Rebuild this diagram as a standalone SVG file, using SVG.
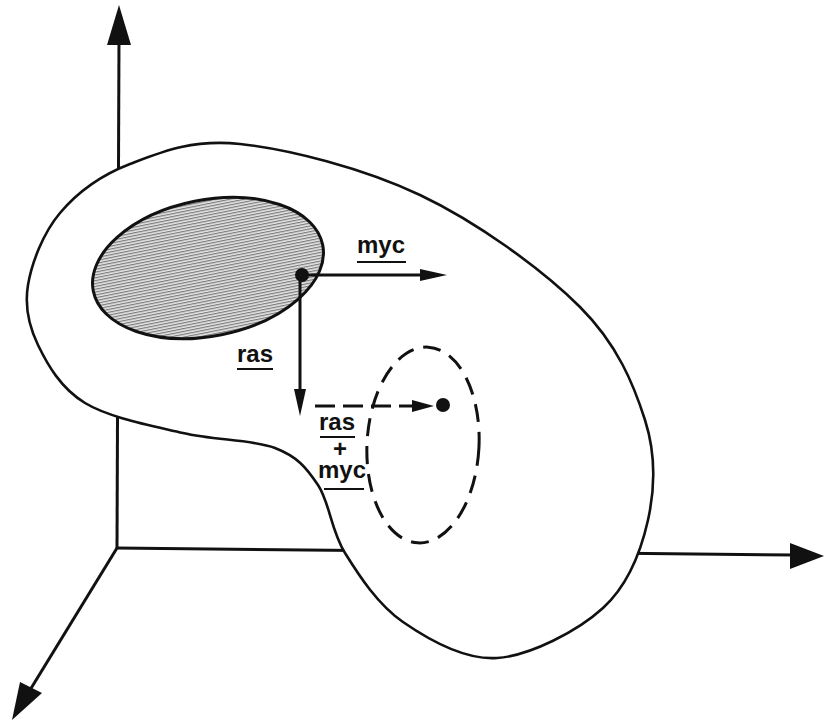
<svg xmlns="http://www.w3.org/2000/svg" width="825" height="723" viewBox="0 0 825 723">
<defs>
<pattern id="hatch" width="8" height="2.8" patternUnits="userSpaceOnUse">
<rect width="8" height="2.8" fill="#e6e6e6"/>
<rect y="0" width="8" height="1.2" fill="#7a7a7a"/>
</pattern>
<style>
.ax{stroke:#111;stroke-width:3;fill:none}
.head{fill:#111;stroke:none}
.lbl{font-family:"Liberation Sans",Arial,sans-serif;font-weight:bold;font-size:24px;fill:#111}
.ul{stroke:#111;stroke-width:2.2}
.arr{stroke:#111;stroke-width:3;fill:none}
</style>
</defs>
<rect width="825" height="723" fill="#fff"/>
<g id="axes">
<line class="ax" x1="119" y1="40" x2="117" y2="549"/>
<polygon class="head" points="119,5 107,45 131,45"/>
<line class="ax" x1="116" y1="548" x2="795" y2="555"/>
<polygon class="head" points="824,556 790,543 790,569"/>
<line class="ax" x1="117" y1="548" x2="30" y2="690"/>
<polygon class="head" points="12,720 20,682 42,693"/>
</g>
<g id="region">
<path d="M240,144 C288,149 363,168 420,195 C477,222 542.5,269.5 580,307 C617.5,344.5 633.7,384.5 645,420 C656.3,455.5 655,488.7 648,520 C641,551.3 628.2,585 603,608 C577.8,631 530.3,655.7 497,658 C463.7,660.3 428.3,639.5 403,622 C377.7,604.5 359.2,575.8 345,553 C330.8,530.2 329.7,502.5 318,485 C306.3,467.5 297.5,456.7 275,448 C252.5,439.3 214.7,440.5 183,433 C151.3,425.5 109.2,417.7 85,403 C60.8,388.3 47.5,364.7 38,345 C28.5,325.3 24.3,307 28,285 C31.7,263 43,233.2 60,213 C77,192.8 100,175.5 130,164 C160,152.5 191.7,138.8 240,144 Z" fill="#fff" stroke="#111" stroke-width="2.6"/>
</g>
<g id="normal">
<ellipse cx="208" cy="268" rx="117" ry="68" transform="rotate(-11.4 208 268)" fill="url(#hatch)" stroke="#111" stroke-width="3"/>
</g>
<g id="combined">
<ellipse cx="423" cy="445" rx="56" ry="98" transform="rotate(3 423 445)" fill="none" stroke="#111" stroke-width="3" stroke-dasharray="18 10"/>
<circle cx="443" cy="405" r="7" fill="#111"/>
</g>
<g id="connectors">
<line class="arr" x1="302" y1="275" x2="425" y2="275"/>
<polygon class="head" points="447,275 420,269 420,281"/>
<line class="arr" x1="300" y1="275" x2="300" y2="392"/>
<polygon class="head" points="300,416 294,389 306,389"/>
<line class="arr" x1="315" y1="406" x2="418" y2="406" stroke-dasharray="20 8"/>
<polygon class="head" points="434,406 412,400 412,412"/>
<circle cx="302" cy="275" r="7" fill="#111"/>
</g>
<g id="labels">
<text class="lbl" x="357" y="253">myc</text>
<line class="ul" x1="357" y1="262" x2="406" y2="262"/>
<text class="lbl" x="237" y="362">ras</text>
<line class="ul" x1="237" y1="369" x2="273" y2="369"/>
<text class="lbl" x="319" y="430">ras</text>
<line class="ul" x1="320" y1="437" x2="355" y2="437"/>
<text class="lbl" x="340" y="457" text-anchor="middle" font-size="17">+</text>
<text class="lbl" x="318" y="478" font-size="23">myc</text>
<line class="ul" x1="324" y1="489" x2="364" y2="489"/>
</g>
</svg>
